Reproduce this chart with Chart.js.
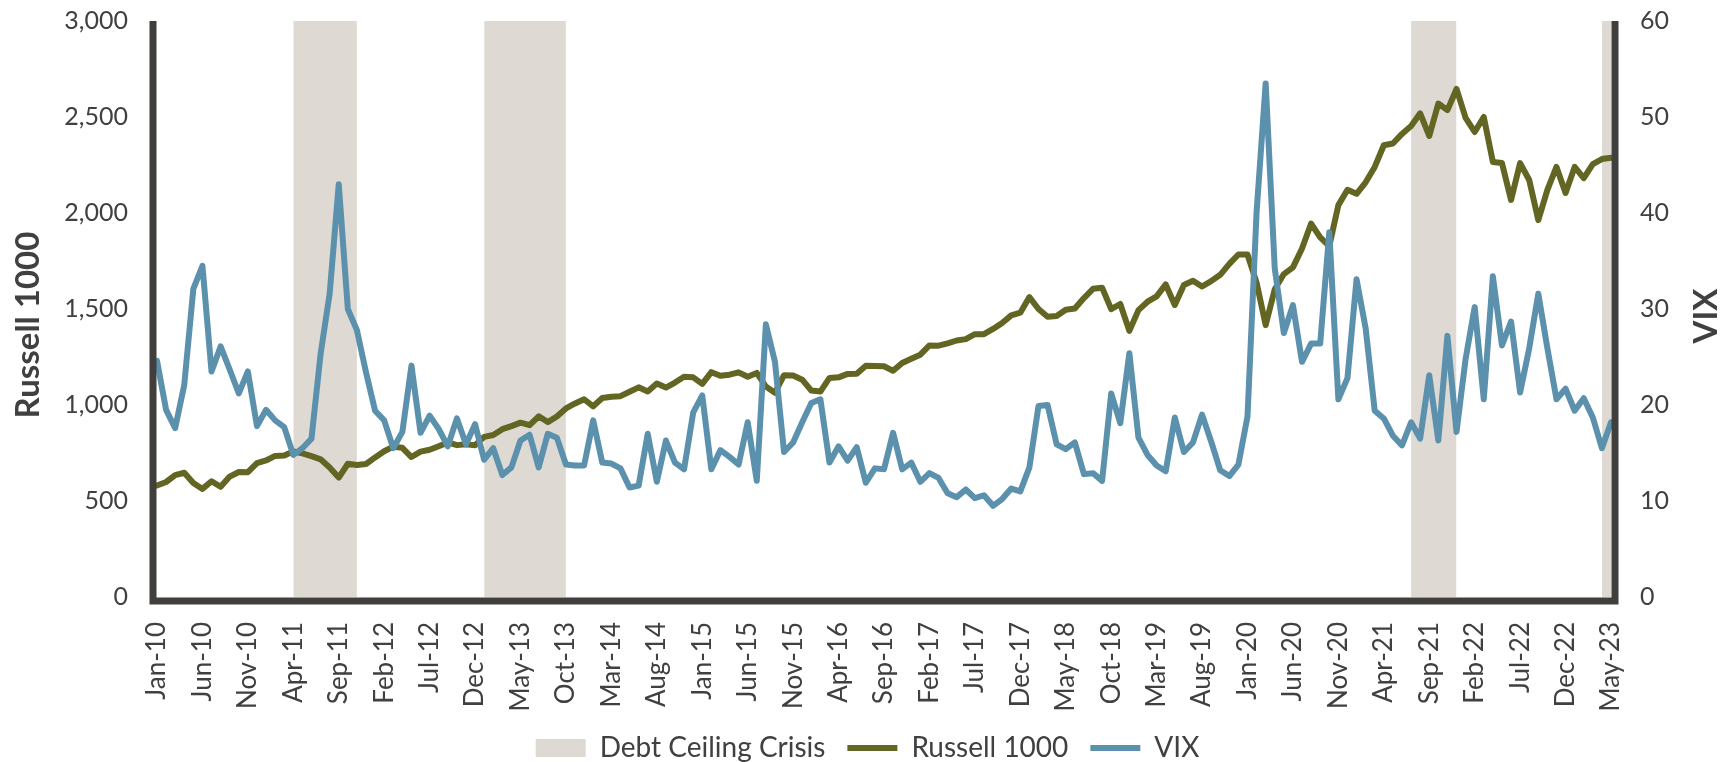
<!DOCTYPE html>
<html>
<head>
<meta charset="utf-8">
<title>Russell 1000 vs VIX</title>
<script src="https://cdn.jsdelivr.net/npm/chart.js@4.4.1/dist/chart.umd.min.js"></script>
<style>
  html, body { margin: 0; padding: 0; background: #fff; }
  #wrap { width: 1735px; height: 762px; }
</style>
</head>
<body>
<div id="wrap"><canvas id="chart" width="1735" height="762"></canvas></div>
<script>
// ---- categories: month ends, Jan-10 .. May-23 ----
const labels = [
  'Jan-10','Feb-10','Mar-10','Apr-10','May-10','Jun-10','Jul-10','Aug-10','Sep-10','Oct-10','Nov-10','Dec-10',
  'Jan-11','Feb-11','Mar-11','Apr-11','May-11','Jun-11','Jul-11','Aug-11','Sep-11','Oct-11','Nov-11','Dec-11',
  'Jan-12','Feb-12','Mar-12','Apr-12','May-12','Jun-12','Jul-12','Aug-12','Sep-12','Oct-12','Nov-12','Dec-12',
  'Jan-13','Feb-13','Mar-13','Apr-13','May-13','Jun-13','Jul-13','Aug-13','Sep-13','Oct-13','Nov-13','Dec-13',
  'Jan-14','Feb-14','Mar-14','Apr-14','May-14','Jun-14','Jul-14','Aug-14','Sep-14','Oct-14','Nov-14','Dec-14',
  'Jan-15','Feb-15','Mar-15','Apr-15','May-15','Jun-15','Jul-15','Aug-15','Sep-15','Oct-15','Nov-15','Dec-15',
  'Jan-16','Feb-16','Mar-16','Apr-16','May-16','Jun-16','Jul-16','Aug-16','Sep-16','Oct-16','Nov-16','Dec-16',
  'Jan-17','Feb-17','Mar-17','Apr-17','May-17','Jun-17','Jul-17','Aug-17','Sep-17','Oct-17','Nov-17','Dec-17',
  'Jan-18','Feb-18','Mar-18','Apr-18','May-18','Jun-18','Jul-18','Aug-18','Sep-18','Oct-18','Nov-18','Dec-18',
  'Jan-19','Feb-19','Mar-19','Apr-19','May-19','Jun-19','Jul-19','Aug-19','Sep-19','Oct-19','Nov-19','Dec-19',
  'Jan-20','Feb-20','Mar-20','Apr-20','May-20','Jun-20','Jul-20','Aug-20','Sep-20','Oct-20','Nov-20','Dec-20',
  'Jan-21','Feb-21','Mar-21','Apr-21','May-21','Jun-21','Jul-21','Aug-21','Sep-21','Oct-21','Nov-21','Dec-21',
  'Jan-22','Feb-22','Mar-22','Apr-22','May-22','Jun-22','Jul-22','Aug-22','Sep-22','Oct-22','Nov-22','Dec-22',
  'Jan-23','Feb-23','Mar-23','Apr-23','May-23'
];

// labels actually printed under the axis (every 5th month)
const xTickLabels = [
  'Jan-10','Jun-10','Nov-10','Apr-11','Sep-11','Feb-12','Jul-12','Dec-12','May-13','Oct-13','Mar-14',
  'Aug-14','Jan-15','Jun-15','Nov-15','Apr-16','Sep-16','Feb-17','Jul-17','Dec-17','May-18','Oct-18',
  'Mar-19','Aug-19','Jan-20','Jun-20','Nov-20','Apr-21','Sep-21','Feb-22','Jul-22','Dec-22','May-23'
];

// Russell 1000 (left axis)
const russell = [
  581, 599, 635, 647, 594, 563, 603, 574, 627, 651, 650, 697,
  711, 735, 737, 758, 748, 734, 717, 674, 622, 694, 688, 693,
  727, 759, 783, 777, 729, 757, 767, 785, 805, 791, 795, 790,
  834, 844, 874, 890, 908, 895, 941, 911, 940, 982, 1008, 1030,
  993, 1036, 1043, 1046, 1069, 1092, 1070, 1112, 1091, 1117, 1147, 1144,
  1110, 1171, 1152, 1158, 1170, 1147, 1167, 1096, 1064, 1155, 1154, 1132,
  1075, 1070, 1141, 1144, 1162, 1163, 1205, 1203, 1202, 1178, 1219, 1241,
  1262, 1310, 1309, 1321, 1336, 1343, 1369, 1369, 1396, 1427, 1467, 1481,
  1562, 1500, 1460, 1464, 1496, 1503, 1557, 1605, 1611, 1499, 1526, 1386,
  1494, 1538, 1566, 1628, 1521, 1625, 1647, 1617, 1645, 1678, 1735, 1784,
  1784, 1637, 1416, 1603, 1682, 1717, 1815, 1945, 1873, 1828, 2041, 2121,
  2100, 2160, 2240, 2353, 2362, 2412, 2453, 2519, 2401, 2570, 2536, 2646,
  2495, 2422, 2500, 2266, 2260, 2068, 2260, 2172, 1963, 2120, 2240, 2104,
  2240, 2182, 2255, 2281, 2288
];

// VIX (right axis)
const vix = [
  24.6, 19.5, 17.6, 22.1, 32.1, 34.5, 23.5, 26.1, 23.7, 21.2, 23.5, 17.8,
  19.5, 18.4, 17.7, 14.8, 15.5, 16.5, 25.3, 31.6, 43.0, 30.0, 27.8, 23.4,
  19.4, 18.4, 15.5, 17.2, 24.1, 17.1, 18.9, 17.5, 15.7, 18.6, 15.9, 18.0,
  14.3, 15.5, 12.7, 13.5, 16.3, 16.9, 13.5, 17.0, 16.6, 13.8, 13.7, 13.7,
  18.4, 14.0, 13.9, 13.4, 11.4, 11.6, 17.0, 12.0, 16.3, 14.0, 13.3, 19.2,
  21.0, 13.3, 15.3, 14.6, 13.8, 18.2, 12.1, 28.4, 24.5, 15.1, 16.1, 18.2,
  20.2, 20.6, 14.0, 15.7, 14.2, 15.6, 11.9, 13.4, 13.3, 17.1, 13.3, 14.0,
  12.0, 12.9, 12.4, 10.8, 10.4, 11.2, 10.3, 10.6, 9.5, 10.2, 11.3, 11.0,
  13.5, 19.9, 20.0, 15.9, 15.4, 16.1, 12.8, 12.9, 12.1, 21.2, 18.1, 25.4,
  16.6, 14.8, 13.7, 13.1, 18.7, 15.1, 16.1, 19.0, 16.2, 13.2, 12.6, 13.8,
  18.8, 40.1, 53.5, 34.2, 27.5, 30.4, 24.5, 26.4, 26.4, 38.0, 20.6, 22.8,
  33.1, 28.0, 19.4, 18.6, 16.8, 15.8, 18.2, 16.5, 23.1, 16.3, 27.2, 17.2,
  24.8, 30.2, 20.6, 33.4, 26.2, 28.7, 21.3, 25.9, 31.6, 25.9, 20.6, 21.7,
  19.4, 20.7, 18.7, 15.5, 18.2
];

// debt ceiling crisis periods (shaded)
const crisisStart = ['Apr-11', 'Jan-13', 'Jul-21', 'Apr-23'];
const crisisEnd   = ['Nov-11', 'Oct-13', 'Dec-21', 'May-23'];

const LEFT_MAX = 3000;
const RIGHT_MAX = 60;

const TXT = '#404040';
const FONT = 'Lato, "Noto Sans", sans-serif';

// shaded band: full height inside each crisis window, gap elsewhere
const crisisBand = labels.map((m, i) => {
  const inside = crisisStart.some((s, k) => i >= labels.indexOf(s) && i <= labels.indexOf(crisisEnd[k]));
  return inside ? LEFT_MAX : null;
});

// tick padding would otherwise be added to the scale's top/bottom padding
const fixPad = (s, w) => {
  if (w) s.width = w;
  s.paddingTop = 0;
  s.paddingBottom = 0;
};

// frame (left / bottom / right) + rotated axis titles
const frameAndTitles = {
  id: 'frameAndTitles',
  afterDatasetsDraw(chart) {
    const { ctx, chartArea: a } = chart;
    ctx.save();
    ctx.strokeStyle = '#403f3b';
    ctx.lineWidth = 7;
    ctx.lineJoin = 'miter';
    ctx.lineCap = 'butt';
    ctx.beginPath();
    ctx.moveTo(a.left - 4, a.top);
    ctx.lineTo(a.left - 4, a.bottom + 4);
    ctx.lineTo(a.right + 4, a.bottom + 4);
    ctx.lineTo(a.right + 4, a.top);
    ctx.stroke();

    const midY = (a.top + a.bottom) / 2;
    ctx.fillStyle = TXT;
    ctx.font = 'bold 33px ' + FONT;
    ctx.textAlign = 'center';
    ctx.textBaseline = 'alphabetic';
    ctx.translate(39, midY + 16);
    ctx.rotate(-Math.PI / 2);
    ctx.fillText('Russell 1000', 0, 0);
    ctx.setTransform(1, 0, 0, 1, 0, 0);
    ctx.translate(1717, midY + 7);
    ctx.rotate(-Math.PI / 2);
    ctx.fillText('VIX', 0, 0);
    ctx.restore();
  }
};

new Chart(document.getElementById('chart'), {
  type: 'line',
  data: {
    labels,
    datasets: [
      {
        label: 'Debt Ceiling Crisis',
        data: crisisBand,
        yAxisID: 'y',
        backgroundColor: '#dedad3',
        borderColor: 'rgba(0,0,0,0)',
        borderWidth: 0,
        pointRadius: 0,
        pointHoverRadius: 0,
        pointStyle: 'rect',
        fill: 'origin',
        spanGaps: false,
        order: 2
      },
      {
        label: 'Russell 1000',
        data: russell,
        yAxisID: 'y',
        borderColor: '#636522',
        backgroundColor: '#636522',
        borderWidth: 6,
        borderCapStyle: 'round',
        borderJoinStyle: 'round',
        pointRadius: 0,
        pointStyle: 'line',
        fill: false,
        tension: 0,
        order: 1
      },
      {
        label: 'VIX',
        data: vix,
        yAxisID: 'y1',
        borderColor: '#5b91ad',
        backgroundColor: '#5b91ad',
        borderWidth: 6,
        borderCapStyle: 'round',
        borderJoinStyle: 'round',
        pointRadius: 0,
        pointStyle: 'line',
        fill: false,
        tension: 0,
        order: 0
      }
    ]
  },
  options: {
    responsive: false,
    animation: false,
    events: [],
    layout: { padding: { top: 21, left: 0, right: 0, bottom: -10 } },
    plugins: {
      filler: { drawTime: 'beforeDatasetsDraw' },
      tooltip: { enabled: false },
      legend: {
        position: 'bottom',
        labels: {
          usePointStyle: true,
          pointStyleWidth: 50,
          boxHeight: 18,
          padding: 22,
          color: TXT,
          font: { family: FONT, size: 28 },
          sort: (a, b) => a.datasetIndex - b.datasetIndex
        }
      }
    },
    scales: {
      x: {
        type: 'category',
        offset: false,
        grid: { display: false, drawTicks: false },
        border: { display: false },
        ticks: {
          autoSkip: false,
          minRotation: 90,
          maxRotation: 90,
          padding: 25,
          color: TXT,
          font: { family: FONT, size: 26 },
          callback: function (v) {
            const l = this.getLabelForValue(v);
            return xTickLabels.includes(l) ? l : '';
          }
        },
        afterFit: s => { s.height = 115; }
      },
      y: {
        position: 'left',
        min: 0,
        max: LEFT_MAX,
        grid: { display: false, drawTicks: false },
        border: { display: false },
        ticks: {
          stepSize: 500,
          padding: 29,
          color: TXT,
          font: { family: FONT, size: 25 }
        },
        afterFit: s => fixPad(s, 157)
      },
      y1: {
        position: 'right',
        min: 0,
        max: RIGHT_MAX,
        grid: { display: false, drawTicks: false },
        border: { display: false },
        ticks: {
          stepSize: 10,
          padding: 29,
          color: TXT,
          font: { family: FONT, size: 25 }
        },
        afterFit: s => fixPad(s, 124)
      }
    }
  },
  plugins: [frameAndTitles]
});
</script>
</body>
</html>
